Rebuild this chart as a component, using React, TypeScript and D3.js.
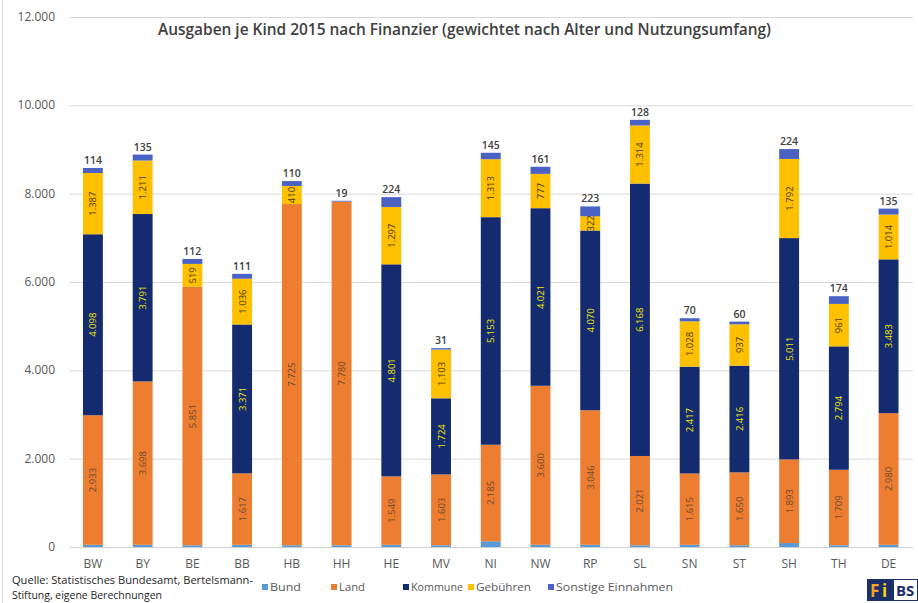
import React, { useRef, useEffect } from 'react';
import * as d3 from 'd3';

const states = ['BW', 'BY', 'BE', 'BB', 'HB', 'HH', 'HE', 'MV', 'NI', 'NW', 'RP', 'SL', 'SN', 'ST', 'SH', 'TH', 'DE'];
const bund = [50, 50, 40, 50, 40, 40, 50, 40, 130, 50, 50, 40, 50, 40, 90, 40, 50];
const land = [2933, 3698, 5851, 1617, 7725, 7780, 1549, 1603, 2185, 3600, 3046, 2021, 1615, 1650, 1893, 1709, 2980];
const kommune = [4098, 3791, 0, 3371, 0, 0, 4801, 1724, 5153, 4021, 4070, 6168, 2417, 2416, 5011, 2794, 3483];
const gebuehren = [1387, 1211, 519, 1036, 410, 0, 1297, 1103, 1313, 777, 322, 1314, 1028, 937, 1792, 961, 1014];
const sonstige = [114, 135, 112, 111, 110, 19, 224, 31, 145, 161, 223, 128, 70, 60, 224, 174, 135];
const yTicks = [0, 2000, 4000, 6000, 8000, 10000, 12000];

const seriesNames = ['Bund', 'Land', 'Kommune', 'Gebühren', 'Sonstige Einnahmen'];
const colors = ['#5b9bd5', '#ed7d31', '#142b6f', '#ffc000', '#4a62c4'];
const labelColors = ['none', '#6e4a2c', '#f2e600', '#4a3b10', 'none'];

const App = () => {
  const ref = useRef<SVGSVGElement>(null);

  useEffect(() => {
    document.body.style.margin = '0';
    const svg = d3.select(ref.current);
    svg.selectAll('*').remove();

    const de = d3.formatLocale({ decimal: ',', thousands: '.', grouping: [3], currency: ['', '€'] });
    const fmt = de.format(',');
    const font = "'Open Sans', sans-serif";

    const table = states.map((s, i) => ({
      state: s,
      Bund: bund[i],
      Land: land[i],
      Kommune: kommune[i],
      'Gebühren': gebuehren[i],
      'Sonstige Einnahmen': sonstige[i],
    }));
    const stacked = d3.stack<any>().keys(seriesNames)(table);

    const x = d3.scaleBand().domain(states).range([78, 903.5]).paddingInner(0.6).paddingOuter(0.1);
    const y = d3.scaleLinear().domain([0, 12000]).range([547, 17]);

    svg.append('rect').attr('width', 918).attr('height', 603).attr('fill', '#fff');
    svg.append('line').attr('x1', 2.5).attr('x2', 2.5).attr('y1', 0).attr('y2', 603)
      .attr('stroke', '#d9d9d9');

    // grid + y labels
    svg.append('g').selectAll('line').data(yTicks.slice(1)).join('line')
      .attr('x1', 70).attr('x2', 913)
      .attr('y1', d => y(d) + 0.5).attr('y2', d => y(d) + 0.5)
      .attr('stroke', '#d9d9d9');
    svg.append('line').attr('x1', 70).attr('x2', 913)
      .attr('y1', y(0) + 0.5).attr('y2', y(0) + 0.5).attr('stroke', '#d0d0d0');
    svg.append('g').selectAll('text').data(yTicks).join('text')
      .attr('x', 55).attr('y', d => y(d) + 4)
      .attr('text-anchor', 'end').attr('font-family', font).attr('font-size', 12)
      .attr('fill', '#595959').text(d => fmt(d));

    // title
    svg.append('text').attr('x', 158).attr('y', 35)
      .attr('font-family', font).attr('font-size', 15.5).attr('font-weight', 600)
      .attr('fill', '#404040').attr('textLength', 613).attr('lengthAdjust', 'spacingAndGlyphs')
      .text('Ausgaben je Kind 2015 nach Finanzier (gewichtet nach Alter und Nutzungsumfang)');

    // bars
    stacked.forEach((layer, si) => {
      const g = svg.append('g');
      g.selectAll('rect').data(layer).join('rect')
        .attr('x', d => x(d.data.state) as number)
        .attr('width', x.bandwidth())
        .attr('y', d => y(d[1]))
        .attr('height', d => Math.max(0, y(d[0]) - y(d[1])))
        .attr('fill', colors[si]);
      if (labelColors[si] !== 'none') {
        g.selectAll('text').data(layer.filter(d => d[1] - d[0] > 0)).join('text')
          .attr('transform', d => {
            const cx = (x(d.data.state) as number) + x.bandwidth() / 2;
            const cy = (y(d[0]) + y(d[1])) / 2;
            return `translate(${cx + 3.5},${cy}) rotate(-90)`;
          })
          .attr('text-anchor', 'middle').attr('font-family', font).attr('font-size', 9.5)
          .attr('fill', labelColors[si]).text(d => fmt(d[1] - d[0]));
      }
    });

    // totals labels (Sonstige) on top
    const top = stacked[stacked.length - 1];
    svg.append('g').selectAll('text').data(top).join('text')
      .attr('x', d => (x(d.data.state) as number) + x.bandwidth() / 2)
      .attr('y', d => y(d[1]) - 4)
      .attr('text-anchor', 'middle').attr('font-family', font).attr('font-size', 10.5)
      .attr('font-weight', 600).attr('fill', '#404040')
      .text(d => fmt(d[1] - d[0]));

    // x labels
    svg.append('g').selectAll('text').data(states).join('text')
      .attr('x', d => (x(d) as number) + x.bandwidth() / 2)
      .attr('y', 568)
      .attr('text-anchor', 'middle').attr('font-family', font).attr('font-size', 12)
      .attr('fill', '#595959').text(d => d);

    // legend
    const legendX = [262, 331, 403, 468, 548];
    const legendW = [31, 26, 52, 55, 117];
    const lg = svg.append('g');
    seriesNames.forEach((n, i) => {
      lg.append('rect').attr('x', legendX[i]).attr('y', 584).attr('width', 6).attr('height', 6)
        .attr('fill', colors[i]);
      lg.append('text').attr('x', legendX[i] + 8).attr('y', 591)
        .attr('font-family', font).attr('font-size', 11.5).attr('fill', '#595959')
        .attr('textLength', legendW[i]).attr('lengthAdjust', 'spacingAndGlyphs').text(n);
    });

    // source note
    svg.append('text').attr('x', 12).attr('y', 584).attr('font-family', font).attr('font-size', 11)
      .attr('fill', '#262626').attr('textLength', 241).attr('lengthAdjust', 'spacingAndGlyphs')
      .text('Quelle: Statistisches Bundesamt, Bertelsmann-');
    svg.append('text').attr('x', 12).attr('y', 599).attr('font-family', font).attr('font-size', 11)
      .attr('fill', '#262626').attr('textLength', 150).attr('lengthAdjust', 'spacingAndGlyphs')
      .text('Stiftung, eigene Berechnungen');

    // logo
    const logo = svg.append('g');
    logo.append('rect').attr('x', 867).attr('y', 579).attr('width', 26).attr('height', 22).attr('fill', '#1b2f6b');
    logo.append('text').attr('x', 870).attr('y', 597).attr('font-family', font).attr('font-size', 17)
      .attr('font-weight', 700).attr('fill', '#f7a21b').text('F');
    logo.append('text').attr('x', 882).attr('y', 597).attr('font-family', font).attr('font-size', 17)
      .attr('font-weight', 700).attr('fill', '#ffd200').text('i');
    logo.append('rect').attr('x', 893.5).attr('y', 579.5).attr('width', 24).attr('height', 21)
      .attr('fill', '#fff').attr('stroke', '#1b2f6b');
    logo.append('text').attr('x', 896).attr('y', 596).attr('font-family', font).attr('font-size', 15)
      .attr('font-weight', 700).attr('fill', '#1b2f6b').text('BS');
  }, []);

  return <svg ref={ref} width={918} height={603} style={{ display: 'block' }} />;
};

export default App;
